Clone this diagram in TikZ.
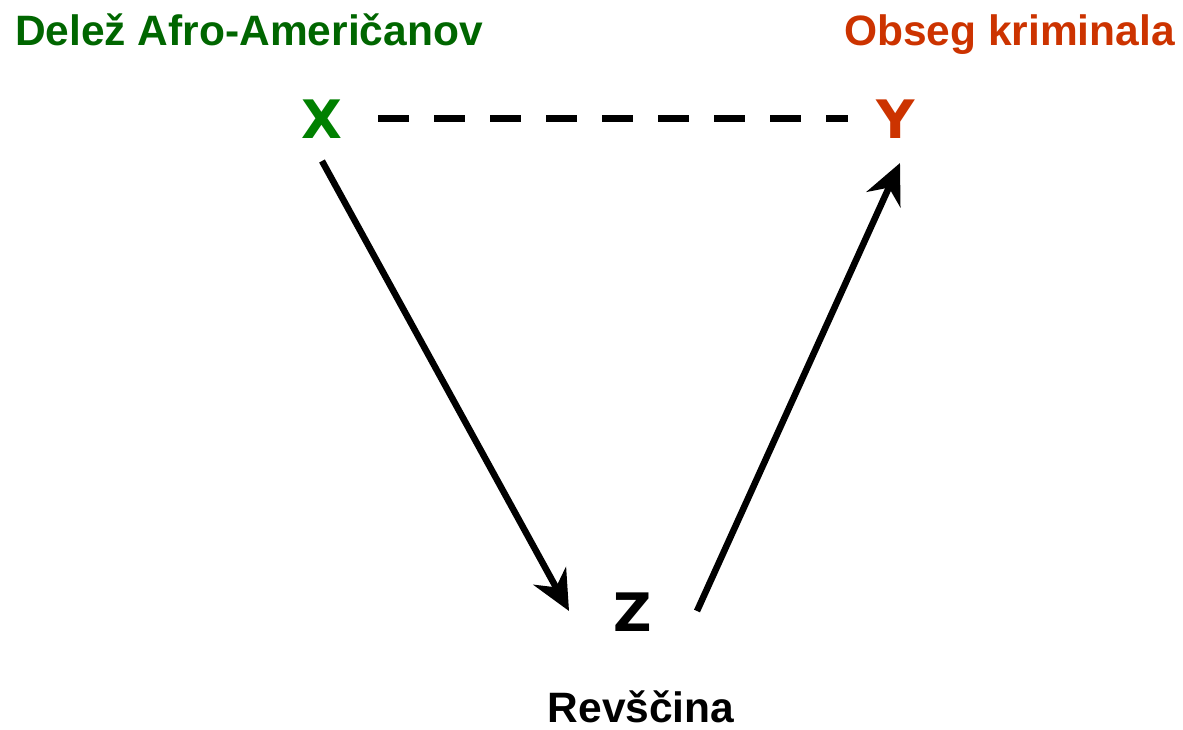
\documentclass[tikz,border=0pt]{standalone}
\usepackage{fontspec}
\setmainfont{Liberation Sans}
\newfontfamily\varfont{DejaVu Sans}
\usetikzlibrary{arrows.meta}
\definecolor{tgreen}{RGB}{0,102,0}
\definecolor{xgreen}{RGB}{0,128,0}
\definecolor{tred}{RGB}{204,51,0}
\tikzset{
  title/.style={font=\fontsize{42.5}{50}\selectfont\bfseries, inner sep=0pt},
  var/.style={font=\varfont\fontsize{53}{60}\selectfont\bfseries, inner sep=0pt, anchor=base},
  conn/.style={line width=6.5pt, -{Stealth[length=40pt,width=37pt,inset=13pt]}},
  dashconn/.style={line width=7pt, dash pattern=on 31pt off 25pt}
}
\begin{document}
\begin{tikzpicture}[x=1pt,y=-1pt]
\useasboundingbox (0,0) rectangle (1183,730);
\node[title, text=tgreen, anchor=base west] (tx) at (15,46) {Delež Afro-Američanov};
\node[title, text=tred, anchor=base east] (ty) at (1175,46) {Obseg kriminala};
\node[var, text=xgreen] (X) at (322,138.5) {X};
\node[var, text=tred] (Y) at (896,138.5) {Y};
\node[var, text=black] (Z) at (632.5,631) {Z};
\node[title, text=black, anchor=base] (tz) at (641,722) {Revščina};
\coordinate (xd) at (378,119);
\coordinate (yd) at (848,119);
\coordinate (xs) at (322,161);
\coordinate (zt) at (569,611);
\coordinate (zs) at (697,611);
\coordinate (yt) at (900,163);
\draw[dashconn] (xd) -- (yd);
\draw[conn] (xs) -- (zt);
\draw[conn] (zs) -- (yt);
\end{tikzpicture}
\end{document}
